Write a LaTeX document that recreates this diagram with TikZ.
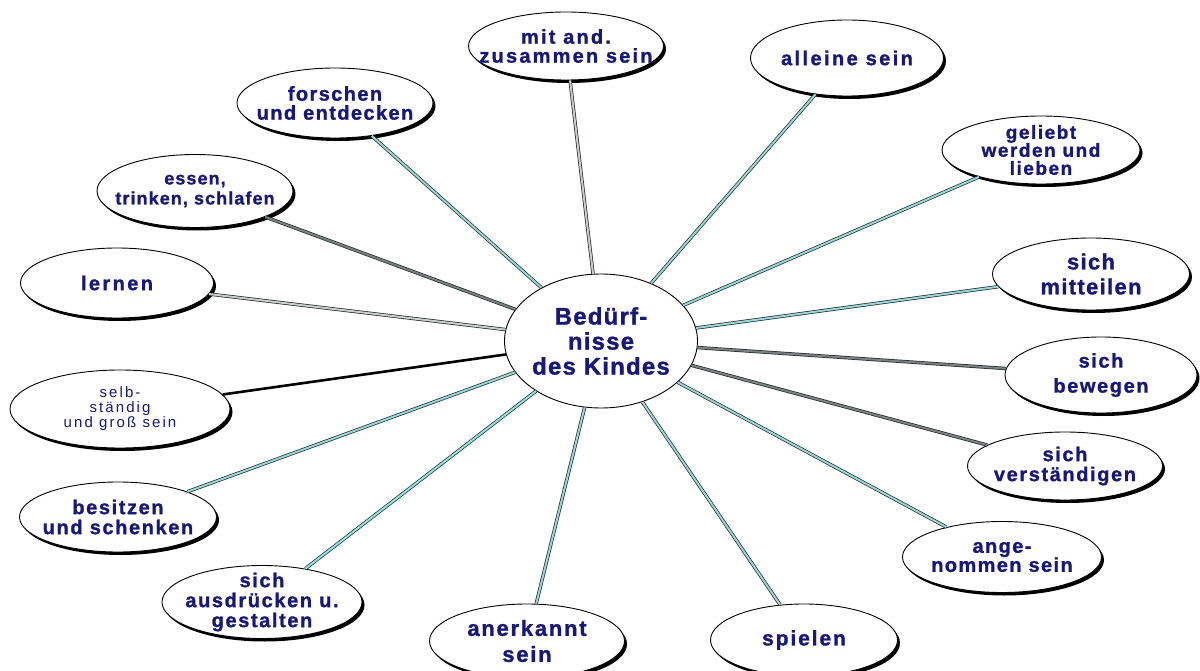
\documentclass[tikz,border=0pt]{standalone}
\usepackage{fontspec}
\setmainfont{Liberation Sans}
\usetikzlibrary{shapes.geometric,shadows}
\definecolor{txtblue}{RGB}{24,24,120}
\definecolor{tealc}{RGB}{150,215,215}
\definecolor{cyanc}{RGB}{140,230,230}
\definecolor{grayc}{RGB}{200,205,205}
\definecolor{darkc}{RGB}{120,130,130}
\tikzset{
  bub/.style={ellipse, draw=black, line width=0.9pt, fill=white, inner sep=0pt,
    drop shadow={shadow xshift=2.5pt, shadow yshift=-3pt, fill=black, opacity=1}},
  hub/.style={ellipse, draw=black, line width=0.9pt, fill=white, inner sep=0pt},
  txt/.style n args={3}{font=\fontsize{#1}{#2}\selectfont\bfseries\addfontfeature{LetterSpace=#3,FakeBold=1.2}, text=txtblue, align=center, inner sep=0pt},
  txtr/.style n args={3}{font=\fontsize{#1}{#2}\selectfont\addfontfeature{LetterSpace=#3}, text=txtblue, align=center, inner sep=0pt},
  conn/.style={draw=black!85, line width=0.7pt, double=#1, double distance=2pt},
  solidconn/.style={draw=black, line width=2.6pt}
}
\begin{document}
\begin{tikzpicture}[x=1pt,y=-1pt]
\useasboundingbox[fill=white] (0,0) rectangle (1200,671);
% center
\node[hub, minimum width=193pt, minimum height=134pt,
  label={[txt={24}{25}{5}]center:{Bedürf-\\nisse\\des Kindes}}] (c) at (601,341) {};
% outer nodes
\node[bub, minimum width=195pt, minimum height=68pt,
  label={[txt={20}{19}{11}]center:{mit and.\\zusammen sein}}] (mit) at (566,46) {};
\node[bub, minimum width=193pt, minimum height=76pt,
  label={[txt={20}{19}{12}]center:{alleine sein}}] (all) at (847,58) {};
\node[bub, minimum width=198pt, minimum height=68pt,
  label={[txt={19}{18}{8}]center:{geliebt\\werden und\\lieben}}] (gel) at (1041,150) {};
\node[bub, minimum width=197pt, minimum height=72pt,
  label={[txt={22}{25}{6}]center:{sich\\mitteilen}}] (mtl) at (1091,274) {};
\node[bub, minimum width=192pt, minimum height=76pt,
  label={[txt={20}{25}{8}]center:{sich\\bewegen}}] (bew) at (1101,375) {};
\node[bub, minimum width=195pt, minimum height=68pt,
  label={[txt={20}{20}{8}]center:{sich\\verständigen}}] (ver) at (1065,466) {};
\node[bub, minimum width=199pt, minimum height=71pt,
  label={[txt={20}{19}{7}]center:{ange-\\nommen sein}}] (ang) at (1002,557) {};
\node[bub, minimum width=187pt, minimum height=72pt,
  label={[txt={21}{25}{9}]center:{spielen}}] (spi) at (804,640) {};
\node[bub, minimum width=195pt, minimum height=74pt,
  label={[txt={22}{26}{8}]center:{anerkannt\\sein}}] (ane) at (527,641) {};
\node[bub, minimum width=200pt, minimum height=73pt,
  label={[txt={20}{20}{8}]center:{sich\\ausdrücken u.\\gestalten}}] (aus) at (262,602) {};
\node[bub, minimum width=197pt, minimum height=70pt,
  label={[txt={20}{20}{8}]center:{besitzen\\und schenken}}] (bes) at (118,517) {};
\node[bub, minimum width=220pt, minimum height=78pt,
  label={[txtr={15}{15}{14}]center:{selb-\\ständig\\und groß sein}}] (sel) at (120,409) {};
\node[bub, minimum width=193pt, minimum height=70pt,
  label={[txt={20}{19}{12}]center:{lernen}}] (ler) at (117,283) {};
\node[bub, minimum width=196pt, minimum height=73pt,
  label={[txt={18}{20}{6}]center:{essen,\\trinken, schlafen}}] (ess) at (195,191) {};
\node[bub, minimum width=196pt, minimum height=70pt,
  label={[txt={20}{19}{7}]center:{forschen\\und entdecken}}] (for) at (335,103) {};
% connectors
\draw[conn=grayc] (c) -- (mit);
\draw[conn=tealc] (c) -- (all);
\draw[conn=tealc] (c) -- (gel);
\draw[conn=tealc] (c) -- (mtl);
\draw[conn=darkc] (c) -- (bew);
\draw[conn=darkc] (c) -- (ver);
\draw[conn=tealc] (c) -- (ang);
\draw[conn=tealc] (c) -- (spi);
\draw[conn=tealc] (c) -- (ane);
\draw[conn=cyanc] (c) -- (aus);
\draw[conn=tealc] (c) -- (bes);
\draw[solidconn] (c) -- (sel);
\draw[conn=grayc] (c) -- (ler);
\draw[conn=darkc] (c) -- (ess);
\draw[conn=tealc] (c) -- (for);
\end{tikzpicture}
\end{document}
